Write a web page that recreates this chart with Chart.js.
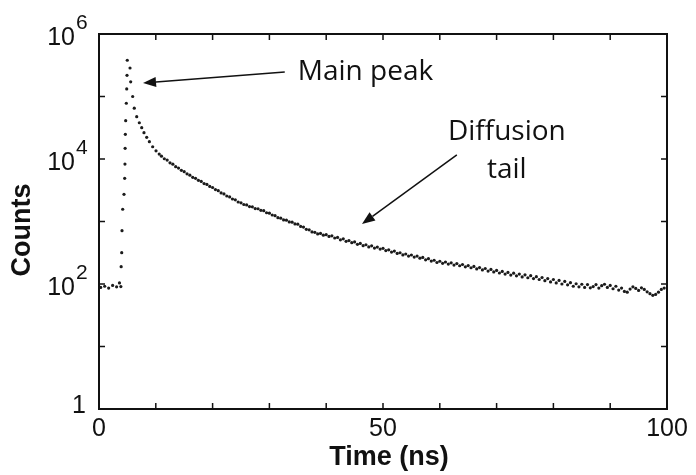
<!DOCTYPE html>
<html>
<head>
<meta charset="utf-8">
<script src="https://cdn.jsdelivr.net/npm/chart.js@4.4.0/dist/chart.umd.min.js"></script>
<style>
  body { margin: 0; background: #fff; }
</style>
</head>
<body>
<canvas id="myChart" width="696" height="475"></canvas>
<script>
// time (ns) and counts
const times = [
  0.3, 1.0, 1.7, 2.4, 3.1, 3.6,
  3.85, 3.9, 4.0, 4.05, 4.17, 4.4, 4.52, 4.57, 4.6, 4.64, 4.7, 4.81, 4.88, 4.93, 4.98,
  5.46, 5.58, 5.93, 6.21, 6.64, 7.1, 7.52, 7.92, 8.4, 8.87, 9.45, 10.04, 10.6,
  11, 11.5, 12, 12.5, 13, 13.5, 14, 14.5, 15, 15.5, 16, 16.5, 17, 17.5, 18, 18.5, 19, 19.5,
  20, 20.5, 21, 21.5, 22, 22.5, 23, 23.5, 24, 24.5, 25, 25.5, 26, 26.5, 27, 27.5, 28, 28.5, 29, 29.5,
  30, 30.5, 31, 31.5, 32, 32.5, 33, 33.5, 34, 34.5, 35, 35.5, 36, 36.5, 37, 37.5, 38, 38.5, 39, 39.5,
  40, 40.5, 41, 41.5, 42, 42.5, 43, 43.5, 44, 44.5, 45, 45.5, 46, 46.5, 47, 47.5, 48, 48.5, 49, 49.5,
  50, 50.5, 51, 51.5, 52, 52.5, 53, 53.5, 54, 54.5, 55, 55.5, 56, 56.5, 57, 57.5, 58, 58.5, 59, 59.5,
  60, 60.5, 61, 61.5, 62, 62.5, 63, 63.5, 64, 64.5, 65, 65.5, 66, 66.5, 67, 67.5, 68, 68.5, 69, 69.5,
  70, 70.5, 71, 71.5, 72, 72.5, 73, 73.5, 74, 74.5, 75, 75.5, 76, 76.5, 77, 77.5, 78, 78.5, 79, 79.5,
  80, 80.5, 81, 81.5, 82, 82.5, 83, 83.5, 84, 84.5, 85, 85.5, 86, 86.5, 87, 87.5, 88, 88.5, 89, 89.5,
  90, 90.5, 91, 91.5, 92, 92.5, 93, 93.5, 94, 94.5, 95, 95.5, 96, 96.5, 97, 97.5, 98, 98.5, 99, 99.5
];
const counts = [
  88, 92, 86, 95, 90, 104,
  91, 189, 317, 713, 1570, 2720, 4900, 8300, 14800, 24800, 41000, 78000, 132000, 218000, 380000,
  286000, 172000, 100000, 65000, 47500, 38000, 31700, 26400, 22200, 18900, 15700, 13500, 12000,
  11100, 10100, 9600, 8700, 8250, 7550, 7150, 6600, 6280, 5800, 5520, 5100, 4900, 4560, 4380, 4050, 3920, 3640,
  3500, 3240, 3110, 2870, 2760, 2560, 2470, 2290, 2220, 2050, 1990, 1870, 1840, 1730, 1720, 1610, 1600, 1510, 1490, 1380,
  1360, 1270, 1240, 1150, 1130, 1060, 1050, 985, 975, 915, 905, 835, 815, 750, 735, 680, 670, 632, 645, 605,
  615, 578, 590, 545, 556, 510, 528, 482, 495, 458, 472, 432, 446, 410, 425, 392, 408, 376, 390, 362,
  372, 343, 352, 324, 336, 308, 316, 292, 302, 280, 291, 270, 280, 259, 266, 244, 254, 233, 240, 221,
  231, 214, 225, 208, 218, 201, 212, 196, 205, 188, 197, 182, 191, 174, 183, 168, 177, 161, 171, 156,
  165, 150, 159, 144, 153, 139, 149, 135, 144, 130, 140, 126, 136, 122, 131, 118, 127, 113, 122, 108,
  118, 104, 114, 100, 110, 97, 105, 92, 101, 90, 99, 88, 98, 87, 91, 98, 86, 94, 99, 88,
  95, 84, 92, 80, 86, 76, 74, 83, 90, 85, 79, 87, 82, 75, 70, 66, 68, 74, 82, 86
];

const xLabelValues = [0, 50, 100];
const yDecades = [1, 10, 100, 1e3, 1e4, 1e5, 1e6];
const yLabelExponents = [0, 2, 4, 6];

// annotations, in data units (time, counts)
const noteTexts = ["Main peak", "Diffusion", "tail"];
const notePoints = [[35.0, 184000], [71.8, 20100], [71.8, 4966]];
const arrowFrom = [[32.7, 247000], [63.0, 11600]];
const arrowTo = [[7.75, 164000], [46.3, 912]];

function arrow(ctx, x1, y1, x2, y2) {
  const ang = Math.atan2(y2 - y1, x2 - x1);
  const len = 13, half = 5;
  const bx = x2 - len * Math.cos(ang), by = y2 - len * Math.sin(ang);
  ctx.beginPath();
  ctx.moveTo(x1, y1);
  ctx.lineTo(bx, by);
  ctx.stroke();
  ctx.beginPath();
  ctx.moveTo(x2, y2);
  ctx.lineTo(bx + half * Math.sin(ang), by - half * Math.cos(ang));
  ctx.lineTo(bx - half * Math.sin(ang), by + half * Math.cos(ang));
  ctx.closePath();
  ctx.fill();
}

const frame = {
  id: "frame",
  afterDraw(chart) {
    const ctx = chart.ctx;
    const a = chart.chartArea;
    const xs = chart.scales.x, ys = chart.scales.y;
    ctx.save();
    ctx.strokeStyle = "#111";
    ctx.fillStyle = "#111";

    // inward ticks on all four sides
    ctx.lineWidth = 1.5;
    ctx.beginPath();
    xs.ticks.forEach(t => {
      if (t.value <= xs.min || t.value >= xs.max) return;
      const px = xs.getPixelForValue(t.value);
      ctx.moveTo(px, a.bottom); ctx.lineTo(px, a.bottom - 6);
      ctx.moveTo(px, a.top); ctx.lineTo(px, a.top + 6);
    });
    ys.ticks.forEach(t => {
      if (t.value <= ys.min || t.value >= ys.max) return;
      const py = ys.getPixelForValue(t.value);
      ctx.moveTo(a.left, py); ctx.lineTo(a.left + 6, py);
      ctx.moveTo(a.right, py); ctx.lineTo(a.right - 6, py);
    });
    ctx.stroke();

    ctx.lineWidth = 2;
    ctx.strokeRect(a.left, a.top, a.right - a.left, a.bottom - a.top);

    // y labels with exponents
    ctx.textBaseline = "alphabetic";
    yLabelExponents.forEach(e => {
      const py = ys.getPixelForValue(Math.pow(10, e));
      if (e === 0) {
        ctx.font = "25px 'Liberation Sans'";
        ctx.textAlign = "right";
        ctx.fillText("1", 86, py + 4);
      } else {
        ctx.font = "25px 'Liberation Sans'";
        ctx.textAlign = "right";
        ctx.fillText("10", 75, py + 11);
        ctx.font = "21px 'Liberation Sans'";
        ctx.textAlign = "left";
        ctx.fillText(String(e), 76, py - 5);
      }
    });

    // axis titles
    ctx.font = "bold 27px 'Liberation Sans'";
    ctx.textAlign = "center";
    ctx.textBaseline = "middle";
    ctx.fillText("Time (ns)", 389, 458);
    ctx.save();
    ctx.translate(23, 230);
    ctx.rotate(-Math.PI / 2);
    ctx.fillText("Counts", 0, 0);
    ctx.restore();

    // annotations
    ctx.font = "28px 'Open Sans'";
    ctx.textBaseline = "alphabetic";
    noteTexts.forEach((txt, i) => {
      ctx.textAlign = i === 0 ? "left" : "center";
      ctx.fillText(txt, xs.getPixelForValue(notePoints[i][0]), ys.getPixelForValue(notePoints[i][1]));
    });
    ctx.lineWidth = 1.5;
    arrowFrom.forEach((f, i) => {
      arrow(ctx,
        xs.getPixelForValue(f[0]), ys.getPixelForValue(f[1]),
        xs.getPixelForValue(arrowTo[i][0]), ys.getPixelForValue(arrowTo[i][1]));
    });
    ctx.restore();
  }
};

const config = {
  type: "scatter",
  data: {
    datasets: [{
      data: times.map((t, i) => ({ x: t, y: counts[i] })),
      pointRadius: 1.6,
      pointBorderWidth: 0,
      pointBackgroundColor: "#1b1b1b"
    }]
  },
  options: {
    responsive: false,
    animation: false,
    layout: { padding: { top: 34, right: 29, left: 0, bottom: 0 } },
    plugins: { legend: { display: false }, tooltip: { enabled: false } },
    scales: {
      x: {
        type: "linear", min: 0, max: 100,
        grid: { display: false, drawTicks: false },
        border: { display: false },
        ticks: {
          stepSize: 10, autoSkip: false, maxRotation: 0, padding: 5,
          color: "#111", font: { family: "Liberation Sans", size: 25 },
          callback: v => xLabelValues.includes(v) ? String(v) : ""
        },
        afterFit: s => { s.height = 66; }
      },
      y: {
        type: "logarithmic", min: 1, max: 1e6,
        grid: { display: false, drawTicks: false },
        border: { display: false },
        ticks: { display: false },
        afterBuildTicks: s => { s.ticks = yDecades.map(v => ({ value: v })); },
        afterFit: s => { s.width = 99; }
      }
    }
  },
  plugins: [frame]
};

const chart = new Chart(document.getElementById("myChart"), config);
</script>
</body>
</html>
